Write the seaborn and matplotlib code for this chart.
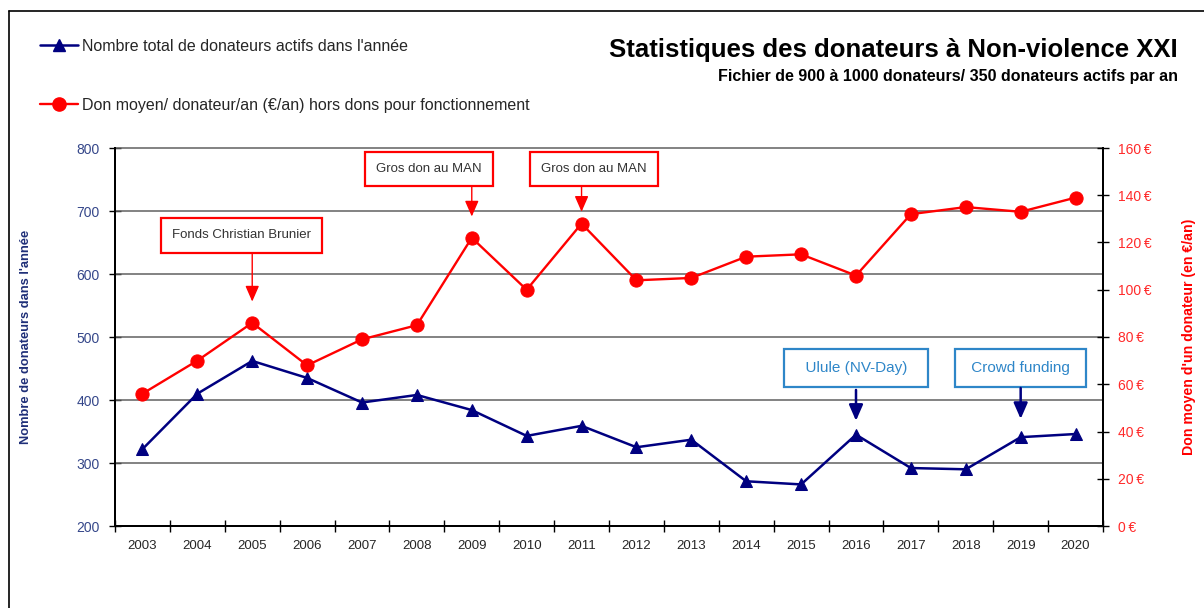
import numpy as np
import pandas as pd
import matplotlib
matplotlib.use("Agg")
import matplotlib.pyplot as plt
import seaborn as sns
from matplotlib.lines import Line2D
from matplotlib.ticker import FixedLocator, FuncFormatter

# ---------------- data ----------------
years = ["2003", "2004", "2005", "2006", "2007", "2008", "2009", "2010", "2011",
         "2012", "2013", "2014", "2015", "2016", "2017", "2018", "2019", "2020"]
donateurs = [322, 410, 462, 435, 396, 408, 384, 343, 359,
             325, 337, 271, 266, 345, 292, 290, 341, 346]
don_moyen = [56, 70, 86, 68, 79, 85, 122, 100, 128,
             104, 105, 114, 115, 106, 132, 135, 133, 139]

left_ticks = [200, 300, 400, 500, 600, 700, 800]
right_ticks = [0, 20, 40, 60, 80, 100, 120, 140, 160]

label_blue = "Nombre total de donateurs actifs dans l'année"
label_red = "Don moyen/ donateur/an (€/an) hors dons pour fonctionnement"
title = "Statistiques des donateurs à Non-violence XXI"
subtitle = "Fichier de 900 à 1000 donateurs/ 350 donateurs actifs par an"
ylabel_left = "Nombre de donateurs dans l'année"
ylabel_right = "Don moyen d'un donateur (en €/an)"

# annotations: (text, year, box x offset, box y, arrow start y, arrow tip y)
red_notes = [("Fonds Christian Brunier", "2005", -0.2, 123, 115.6, 95),
             ("Gros don au MAN", "2009", -0.78, 151, 144, 131),
             ("Gros don au MAN", "2011", 0.22, 151, 144, 133)]
blue_notes = [("  Ulule (NV-Day)  ", "2016", 0.0, 451, 416, 367),
              (" Crowd funding ", "2019", 0.0, 451, 419, 370)]

# ---------------- style ----------------
sns.set_theme(style="white")
FAM = ["Liberation Sans", "DejaVu Sans"]
plt.rcParams["font.family"] = FAM

NAVY = "#000080"
RED = "#ff0000"
LBLUE = "#2e86c8"

df = pd.DataFrame({"idx": np.arange(len(years)), "year": years,
                   "donateurs": donateurs, "don": don_moyen})

fig = plt.figure(figsize=(12.04, 6.08), dpi=100)
ax = fig.add_axes([115 / 1204, 1 - 526 / 608, 988 / 1204, 378 / 608])
ax2 = ax.twinx()

sns.lineplot(data=df, x="idx", y="donateurs", ax=ax, color=NAVY, lw=1.8,
             marker="^", markersize=9, markeredgecolor=NAVY, label=label_blue,
             legend=False, zorder=5)
sns.lineplot(data=df, x="idx", y="don", ax=ax2, color=RED, lw=1.7,
             marker="o", markersize=9.5, markeredgecolor=RED, label=label_red,
             legend=False, zorder=5)

ax.set_xlim(-0.5, len(years) - 0.5)
ax.set_ylim(200, 800)
ax2.set_ylim(0, 160)

# grid
for v in left_ticks[1:]:
    ax.axhline(v, color="#606060", lw=1.1, zorder=1, clip_on=False)

# x ticks
ax.xaxis.set_major_locator(FixedLocator(np.arange(len(years))))
ax.set_xticklabels(years)
ax.xaxis.set_minor_locator(FixedLocator(np.arange(len(years) + 1) - 0.5))
ax.tick_params(axis="x", which="major", length=0, pad=10, labelsize=9.5,
               labelcolor="#262626")
ax.tick_params(axis="x", which="minor", length=8, width=1, direction="inout",
               color="black", bottom=True)

ax.yaxis.set_major_locator(FixedLocator(left_ticks))
ax.tick_params(axis="y", which="major", length=8, width=1, direction="inout",
               color="black", left=True, pad=7, labelsize=10, labelcolor="#35478a")
ax2.yaxis.set_major_locator(FixedLocator(right_ticks))
ax2.yaxis.set_major_formatter(FuncFormatter(lambda v, p: f"{int(v)}\u202f€"))
ax2.tick_params(axis="y", which="major", length=8, width=1, direction="inout",
                color="black", right=True, pad=7, labelsize=10, labelcolor="#ff2a2a")

for a in (ax, ax2):
    a.spines["top"].set_visible(False)
    for s in ("left", "right", "bottom"):
        a.spines[s].set_color("black")
        a.spines[s].set_linewidth(1.4)
ax.set_xlabel("")
ax.set_ylabel(ylabel_left, fontsize=9.3, fontweight="bold", color="#1f2f78")
ax.yaxis.set_label_coords(-0.084, 0.5)
ax2.set_ylabel(ylabel_right, fontsize=10.2, fontweight="bold", color=RED)
ax2.yaxis.set_label_coords(1.080, 0.5)
ax2.set_xlabel("")

yi = {y: i for i, y in enumerate(years)}
for txt, yr, dx, by, sy, ty in red_notes:
    i = yi[yr]
    ax2.text(i + dx, by, txt, ha="center", va="center", fontsize=9.5,
             color="#333333", zorder=8,
             bbox=dict(boxstyle="square,pad=0.85", fc="white", ec=RED, lw=1.6))
    ax2.annotate("", xy=(i, ty), xytext=(i, sy), zorder=8,
                 arrowprops=dict(arrowstyle="-|>,head_length=0.8,head_width=0.35",
                                 color=RED, lw=1.0, shrinkA=0, shrinkB=0))
for txt, yr, dx, by, sy, ty in blue_notes:
    i = yi[yr]
    ax.text(i + dx, by, txt, ha="center", va="center", fontsize=11,
            color=LBLUE, zorder=8,
            bbox=dict(boxstyle="square,pad=0.8", fc="white", ec=LBLUE, lw=1.6))
    ax.annotate("", xy=(i, ty), xytext=(i, sy), zorder=8,
                arrowprops=dict(arrowstyle="-|>,head_length=0.8,head_width=0.35",
                                color=NAVY, lw=1.8, shrinkA=0, shrinkB=0))

# legend
handles = [Line2D([], [], color=NAVY, lw=1.8, marker="^", markersize=9),
           Line2D([], [], color=RED, lw=1.7, marker="o", markersize=9.5)]
fig.legend(handles, [label_blue, label_red], loc="upper left",
           bbox_to_anchor=(40 / 1204, 1 - 39 / 608), frameon=False,
           fontsize=11.5, handlelength=2.4, handletextpad=0.2, labelspacing=2.75,
           borderpad=0, borderaxespad=0)

# titles
fig.text(1178 / 1204, 1 - 50 / 608, title, ha="right", va="center",
         fontsize=18.5, fontweight="bold", color="black")
fig.text(1178 / 1204, 1 - 76 / 608, subtitle, ha="right", va="center",
         fontsize=11.5, fontweight="bold", color="black")

# frame lines
fig.add_artist(Line2D([9 / 1204, 9 / 1204], [0, 1 - 11 / 608], color="black", lw=1.2,
                      transform=fig.transFigure))
fig.add_artist(Line2D([9 / 1204, 1], [1 - 11 / 608, 1 - 11 / 608], color="black", lw=1.2,
                      transform=fig.transFigure))

fig.savefig("out.png", dpi=100, facecolor="white")
